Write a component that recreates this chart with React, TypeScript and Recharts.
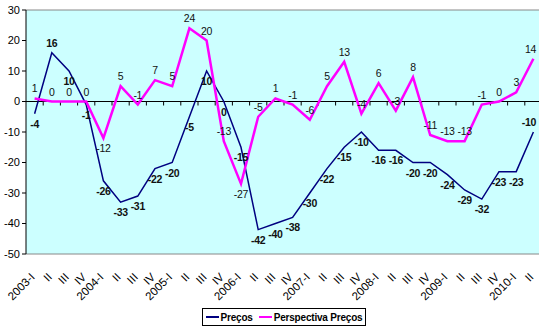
import React from 'react';
import { LineChart, Line, XAxis, YAxis, CartesianGrid, Legend, ReferenceLine, LabelList } from 'recharts';

const quarters = [
  '2003-I', 'II', 'III', 'IV',
  '2004-I', 'II', 'III', 'IV',
  '2005-I', 'II', 'III', 'IV',
  '2006-I', 'II', 'III', 'IV',
  '2007-I', 'II', 'III', 'IV',
  '2008-I', 'II', 'III', 'IV',
  '2009-I', 'II', 'III', 'IV',
  '2010-I', 'II',
];

const precos = [
  -4, 16, 10, -1,
  -26, -33, -31, -22,
  -20, -5, 10, 0,
  -15, -42, -40, -38,
  -30, -22, -15, -10,
  -16, -16, -20, -20,
  -24, -29, -32, -23,
  -23, -10,
];

const perspectiva = [
  1, 0, 0, 0,
  -12, 5, -1, 7,
  5, 24, 20, -13,
  -27, -5, 1, -1,
  -6, 5, 13, -4,
  6, -3, 8, -11,
  -13, -13, -1, 0,
  3, 14,
];

const yTicks = [-50, -40, -30, -20, -10, 0, 10, 20, 30];

const data = quarters.map((q, i) => ({ q, precos: precos[i], perspectiva: perspectiva[i] }));

const FONT = '"Liberation Sans", Arial, sans-serif';
const NAVY = '#000080';
const MAGENTA = '#FF00FF';
const CHART_W = 542;
const VISIBLE_W = 539;

// Preços labels sit under the line (except its highest point and the last one),
// Perspectiva labels sit over it (except the deep dips)
const precosAbove = (v: number, i: number) => v === Math.max(...precos) || i === precos.length - 1;
const perspAbove = (v: number, i: number) => {
  const prev = i > 0 ? perspectiva[i - 1] : v;
  const next = i < perspectiva.length - 1 ? perspectiva[i + 1] : v;
  return !(v < prev && v < next && v <= -10);
};

const makeLabel = (isAbove: (v: number, i: number) => boolean, bold: boolean) => (props: any) => {
  const { x, y, value, index } = props;
  const above = isAbove(value, index);
  // keep labels near the right edge inside the visible area
  const nearEdge = x > VISIBLE_W - 14;
  return (
    <text
      x={nearEdge ? VISIBLE_W - 3 : x}
      y={above ? y - 6 : y + 14}
      textAnchor={nearEdge ? 'end' : 'middle'}
      fontFamily={FONT}
      fontSize={10.5}
      fontWeight={bold ? 700 : 400}
      letterSpacing={-0.3}
      fill="#111"
    >
      {value}
    </text>
  );
};

const QuarterTick = (props: any) => {
  const { x, y, payload } = props;
  return (
    <g transform={`translate(${x - 2},${y + 13})`}>
      <text transform="rotate(-45)" textAnchor="end" dy="0.35em" fontFamily={FONT} fontSize={11.5} fill="#000">
        {payload.value}
      </text>
    </g>
  );
};

// zero axis with tick marks between categories
const ZeroAxis = (props: any) => {
  const { x1, y1, x2 } = props;
  if (x1 == null) return null;
  const w = (x2 - x1) / quarters.length;
  return (
    <g>
      <line x1={x1} y1={y1} x2={x2} y2={y1} stroke="#000" strokeWidth={1} />
      {quarters.map((_, i) => (
        <line key={i} x1={x1 + (i + 1) * w} y1={y1} x2={x1 + (i + 1) * w} y2={y1 + 4} stroke="#000" />
      ))}
    </g>
  );
};

const LegendBox = () => (
  <div style={{ paddingLeft: 26, paddingTop: 9, display: 'flex', justifyContent: 'center' }}>
    <div
      style={{
        border: '1px solid #000',
        display: 'flex',
        alignItems: 'center',
        height: 16,
        padding: '0 3px',
        fontFamily: FONT,
        fontSize: 10,
        fontWeight: 700,
        letterSpacing: -0.2,
        background: '#fff',
      }}
    >
      <span style={{ width: 13, height: 2, background: NAVY, display: 'inline-block', marginRight: 2 }} />
      <span style={{ marginRight: 6 }}>Preços</span>
      <span style={{ width: 13, height: 2, background: MAGENTA, display: 'inline-block', marginRight: 2 }} />
      <span>Perspectiva Preços</span>
    </div>
  </div>
);

export default function App() {
  return (
    <div style={{ width: VISIBLE_W, height: 329, overflow: 'hidden', background: '#fff' }}>
      <style>{'body{margin:0}'}</style>
      <LineChart width={CHART_W} height={329} data={data} margin={{ top: 10, right: 0, bottom: 0, left: 0 }}>
        <CartesianGrid fill="#CCFFFF" horizontal={false} vertical={false} />
        <ReferenceLine y={30} stroke="#888" />
        <ReferenceLine y={-50} stroke="#888" />
        <ReferenceLine y={0} shape={ZeroAxis} />
        <XAxis
          dataKey="q"
          interval={0}
          axisLine={false}
          tickLine={false}
          height={45}
          padding={{ left: 8.6, right: 8.6 }}
          tick={QuarterTick}
        />
        <YAxis
          domain={[-50, 30]}
          ticks={yTicks}
          width={26}
          axisLine={{ stroke: '#000' }}
          tickLine={{ stroke: '#000' }}
          tickSize={4}
          tick={{ fill: '#000', fontSize: 11, fontFamily: FONT }}
        />
        <Legend verticalAlign="bottom" height={30} content={LegendBox} />
        <Line
          dataKey="precos"
          stroke={NAVY}
          strokeWidth={1.5}
          dot={false}
          isAnimationActive={false}
        >
          <LabelList dataKey="precos" content={makeLabel(precosAbove, true)} />
        </Line>
        <Line
          dataKey="perspectiva"
          stroke={MAGENTA}
          strokeWidth={2.5}
          dot={false}
          isAnimationActive={false}
        >
          <LabelList dataKey="perspectiva" content={makeLabel(perspAbove, false)} />
        </Line>
      </LineChart>
    </div>
  );
}
